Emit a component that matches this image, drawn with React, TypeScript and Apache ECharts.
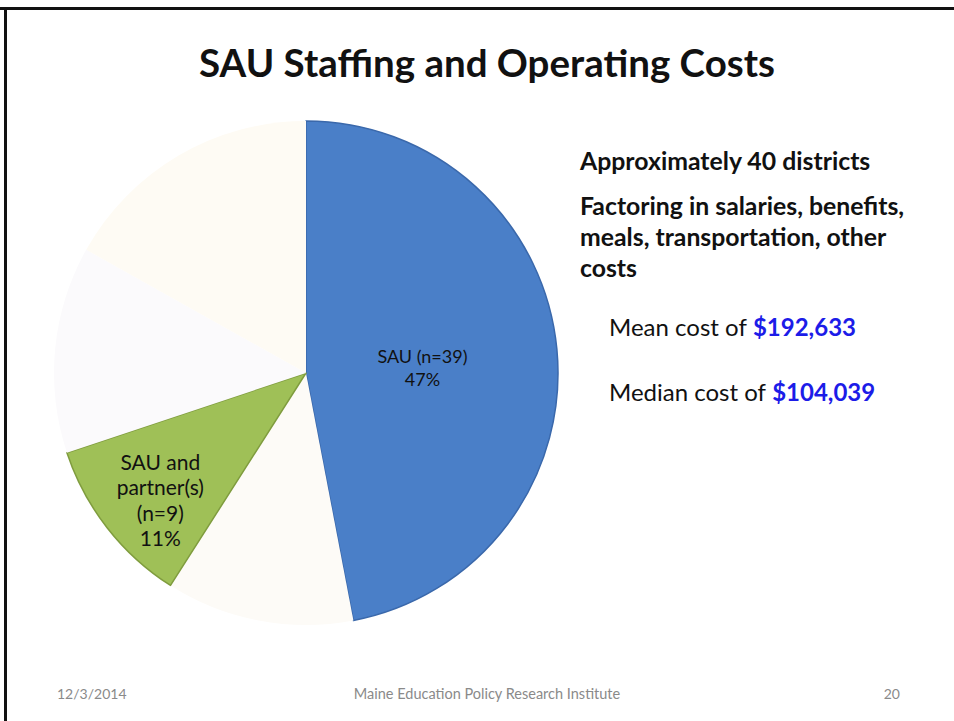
import React, { useEffect, useRef } from "react";
import * as echarts from "echarts";

const categories = ["SAU (n=39)", "Other A", "SAU and\npartner(s)\n(n=9)", "Other B", "Other C"];
const counts = [39, 10, 9, 11, 14];
const titleText = "SAU Staffing and Operating Costs";
const notes = ["Approximately 40 districts", "Factoring in salaries, benefits,", "meals, transportation, other", "costs"];
const meanCost = "$192,633";
const medianCost = "$104,039";
const footerDate = "12/3/2014";
const footerOrg = "Maine Education Policy Research Institute";
const footerPage = "20";

export default function App() {
  const ref = useRef<HTMLDivElement>(null);
  useEffect(() => {
    if (!ref.current) return;
    const chart = echarts.init(ref.current, null, { renderer: "svg" });
    const font = "Lato, 'Open Sans', sans-serif";
    const styles = [
      { color: "#4a7fc8", borderColor: "#3a68ab", borderWidth: 1.5 },
      { color: "#fdfbf7", borderColor: "#fdfbf7", borderWidth: 0 },
      { color: "#9fc057", borderColor: "#7f9c3e", borderWidth: 1.5 },
      { color: "#fbfafc", borderColor: "#fbfafc", borderWidth: 0 },
      { color: "#fefbf4", borderColor: "#fefbf4", borderWidth: 0 },
    ];
    const labels = [
      { show: true, offset: [-12, 7], fontSize: 18, lineHeight: 23 },
      { show: false },
      { show: true, offset: [-44, 47], fontSize: 21, lineHeight: 25.5 },
      { show: false },
      { show: false },
    ];
    const data = categories.map((name, i) => ({
      name,
      value: counts[i],
      itemStyle: styles[i],
      label: labels[i],
    }));
    const bold = (s: number) => `bold ${s}px ${font}`;
    const note = (i: number, y: number) => ({
      type: "text", x: 580, y,
      style: { text: notes[i], fill: "#111111", font: bold(24.8), textVerticalAlign: "middle" },
    });
    const costLine = (label: string, value: string, y: number) => ({
      type: "text", x: 609, y,
      style: {
        text: `{a|${label}}{b|${value}}`,
        textVerticalAlign: "middle",
        rich: {
          a: { fill: "#111111", font: `24px ${font}` },
          b: { fill: "#1c1ce8", font: bold(24) },
        },
      },
    });
    chart.setOption({
      animation: false,
      backgroundColor: "#ffffff",
      series: [
        {
          type: "pie",
          center: [306, 373],
          radius: 252,
          startAngle: 90,
          clockwise: true,
          percentPrecision: 0,
          silent: true,
          label: {
            position: "inside",
            formatter: "{b}\n{d}%",
            color: "#111111",
            fontFamily: font,
            align: "center",
          },
          labelLine: { show: false },
          data,
        },
      ],
      graphic: [
        { type: "rect", shape: { x: 0, y: 7, width: 954, height: 3 }, style: { fill: "#111111" } },
        { type: "rect", shape: { x: 4, y: 7, width: 3, height: 714 }, style: { fill: "#111111" } },
        {
          type: "text", x: 487, y: 62,
          style: { text: titleText, fill: "#111111", font: bold(38.5), textAlign: "center", textVerticalAlign: "middle" },
        },
        note(0, 160),
        note(1, 205),
        note(2, 236),
        note(3, 267),
        costLine("Mean cost of ", meanCost, 326),
        costLine("Median cost of ", medianCost, 391),
        {
          type: "text", x: 57, y: 693,
          style: { text: footerDate, fill: "#8a8a8a", font: `14px ${font}`, textVerticalAlign: "middle" },
        },
        {
          type: "text", x: 487, y: 693,
          style: { text: footerOrg, fill: "#8a8a8a", font: `14.5px ${font}`, textAlign: "center", textVerticalAlign: "middle" },
        },
        {
          type: "text", x: 900, y: 693,
          style: { text: footerPage, fill: "#8a8a8a", font: `14px ${font}`, textAlign: "right", textVerticalAlign: "middle" },
        },
      ],
    });
    return () => chart.dispose();
  }, []);
  return <div ref={ref} style={{ position: "fixed", left: 0, top: 0, width: 954, height: 721 }} />;
}
